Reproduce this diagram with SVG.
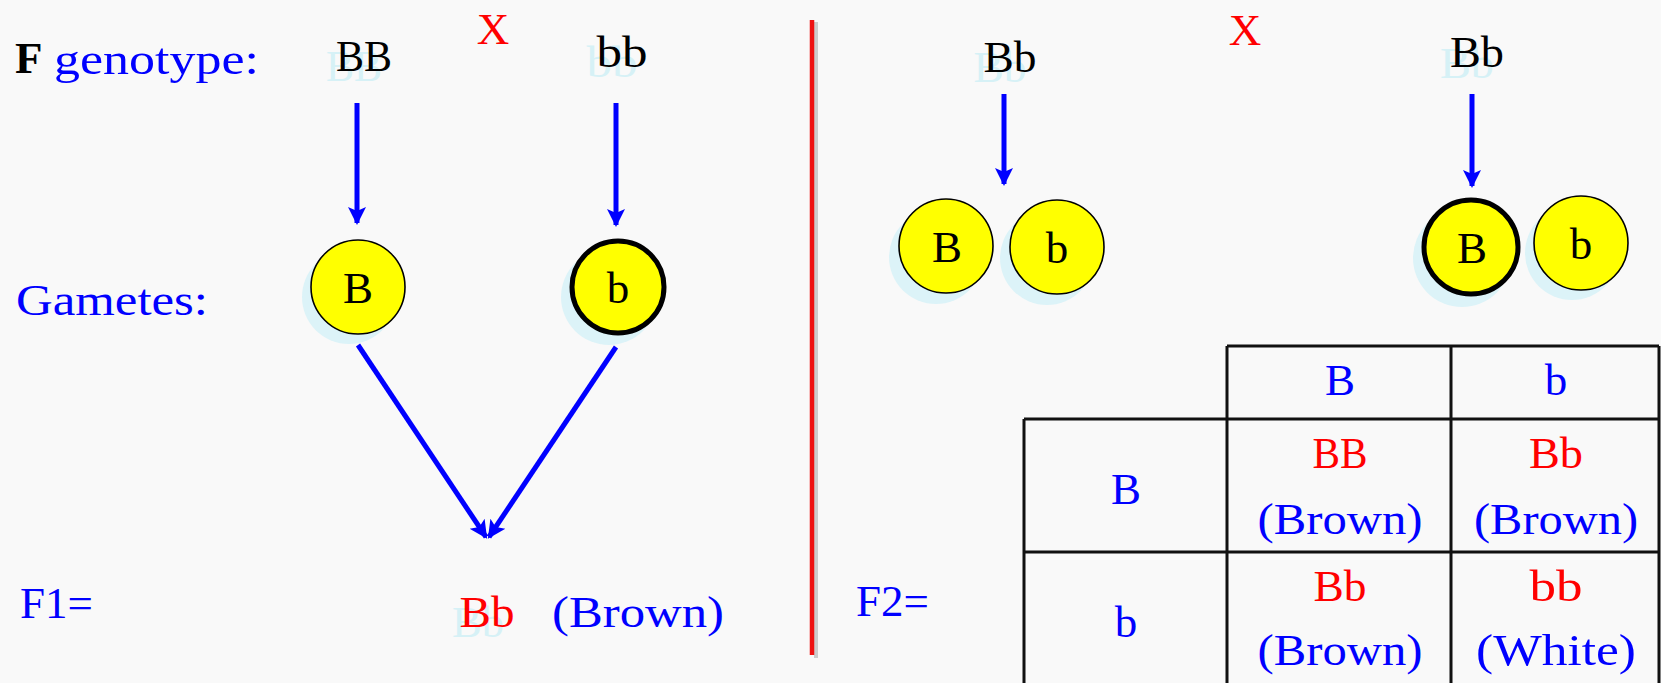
<svg xmlns="http://www.w3.org/2000/svg" width="1661" height="683" viewBox="0 0 1661 683">
<defs>
<style>
text{font-family:"Liberation Serif","Times New Roman",serif;font-size:45px}
.blk{fill:#000}
.blu{fill:#0000ff}
.red{fill:#ff0000}
.gh{fill:#d6f1f6}
.m{text-anchor:middle}
.arr{stroke:#0000ff;stroke-width:5;fill:none;marker-end:url(#ah)}
.gam{fill:#ffff00;stroke:#000;stroke-width:1.6}
.gamT{fill:#ffff00;stroke:#000;stroke-width:5}
.sh{fill:#dcf3f8}
.tb{stroke:#111;stroke-width:3;fill:none}
</style>
<marker id="ah" viewBox="0 0 20 20" refX="16" refY="10" markerWidth="20" markerHeight="20" markerUnits="userSpaceOnUse" orient="auto">
<path d="M0,1 L18,10 L0,19 L4,10 z" fill="#0000ff"/>
</marker>
</defs>
<rect width="1661" height="683" fill="#f9f9f9"/>

<g id="divider">
<line x1="816" y1="22" x2="816" y2="658" stroke="#cccccc" stroke-width="4"/>
<line x1="812" y1="20" x2="812" y2="655" stroke="#ee1111" stroke-width="4.5"/>
</g>

<g id="labels-left">
<text x="15" y="73" class="blk" font-weight="bold">F</text>
<text x="54" y="74" class="blu" textLength="205" lengthAdjust="spacingAndGlyphs">genotype:</text>
<text x="16" y="315" class="blu" textLength="192" lengthAdjust="spacingAndGlyphs">Gametes:</text>
<text x="20" y="618" class="blu">F1=</text>
<text x="493" y="44" class="red m">X</text>
</g>

<g id="parent-BB">
<text x="354" y="81" class="gh m" textLength="56" lengthAdjust="spacingAndGlyphs">BB</text>
<text x="364" y="71" class="blk m" textLength="56" lengthAdjust="spacingAndGlyphs">BB</text>
</g>
<g id="parent-bb">
<text x="612" y="77" class="gh m" textLength="51" lengthAdjust="spacingAndGlyphs">bb</text>
<text x="622" y="67" class="blk m" textLength="51" lengthAdjust="spacingAndGlyphs">bb</text>
</g>

<g id="gamete-B">
<circle cx="349" cy="297" r="47" class="sh"/>
<circle cx="358" cy="287" r="47" class="gam"/>
<text x="358" y="303" class="blk m">B</text>
</g>
<g id="gamete-b">
<circle cx="609" cy="297" r="48" class="sh"/>
<circle cx="618" cy="287" r="46" class="gamT"/>
<text x="618" y="303" class="blk m">b</text>
</g>

<g id="f1">
<text x="478" y="637" class="gh m" textLength="52" lengthAdjust="spacingAndGlyphs">Bb</text>
<text x="487" y="627" class="red m" textLength="55" lengthAdjust="spacingAndGlyphs">Bb</text>
<text x="552" y="627" class="blu" textLength="172" lengthAdjust="spacingAndGlyphs">(Brown)</text>
</g>

<g id="parent-Bb-left">
<text x="1000" y="82" class="gh m" textLength="53" lengthAdjust="spacingAndGlyphs">Bb</text>
<text x="1010" y="72" class="blk m" textLength="53" lengthAdjust="spacingAndGlyphs">Bb</text>
</g>
<g id="parent-Bb-right">
<text x="1467" y="78" class="gh m" textLength="54" lengthAdjust="spacingAndGlyphs">Bb</text>
<text x="1477" y="67" class="blk m" textLength="54" lengthAdjust="spacingAndGlyphs">Bb</text>
</g>
<text x="1245" y="45" class="red m">X</text>
<text x="856" y="616" class="blu">F2=</text>

<g id="gametes-left">
<circle cx="936" cy="257" r="47" class="sh"/>
<circle cx="946" cy="246" r="47" class="gam"/>
<text x="947" y="262" class="blk m">B</text>
<circle cx="1047" cy="258" r="47" class="sh"/>
<circle cx="1057" cy="247" r="47" class="gam"/>
<text x="1057" y="263" class="blk m">b</text>
</g>
<g id="gametes-right">
<circle cx="1462" cy="258" r="49" class="sh"/>
<circle cx="1471" cy="247" r="47" class="gamT"/>
<text x="1472" y="263" class="blk m">B</text>
<circle cx="1572" cy="253" r="47" class="sh"/>
<circle cx="1581" cy="243" r="47" class="gam"/>
<text x="1581" y="259" class="blk m">b</text>
</g>

<g id="connectors">
<line x1="357" y1="103" x2="357" y2="223" class="arr"/>
<line x1="616" y1="103" x2="616" y2="225" class="arr"/>
<line x1="358" y1="345" x2="486" y2="537" class="arr"/>
<line x1="616" y1="347" x2="489" y2="537" class="arr"/>
<line x1="1004" y1="94" x2="1004" y2="184" class="arr"/>
<line x1="1472" y1="94" x2="1472" y2="186" class="arr"/>
</g>

<g id="punnett">
<path class="tb" d="M1227,346 H1659 M1024,419 H1659 M1024,552 H1659 M1024,419 V683 M1227,346 V683 M1451,346 V683 M1659,346 V683"/>
<text x="1340" y="395" class="blu m">B</text>
<text x="1556" y="395" class="blu m">b</text>
<text x="1126" y="504" class="blu m">B</text>
<text x="1126" y="637" class="blu m">b</text>
<text x="1340" y="468" class="red m" textLength="55" lengthAdjust="spacingAndGlyphs">BB</text>
<text x="1340" y="534" class="blu m" textLength="165" lengthAdjust="spacingAndGlyphs">(Brown)</text>
<text x="1556" y="468" class="red m" textLength="54" lengthAdjust="spacingAndGlyphs">Bb</text>
<text x="1556" y="534" class="blu m" textLength="164" lengthAdjust="spacingAndGlyphs">(Brown)</text>
<text x="1340" y="601" class="red m" textLength="53" lengthAdjust="spacingAndGlyphs">Bb</text>
<text x="1340" y="665" class="blu m" textLength="165" lengthAdjust="spacingAndGlyphs">(Brown)</text>
<text x="1556" y="601" class="red m" textLength="53" lengthAdjust="spacingAndGlyphs">bb</text>
<text x="1556" y="665" class="blu m" textLength="160" lengthAdjust="spacingAndGlyphs">(White)</text>
</g>
</svg>
